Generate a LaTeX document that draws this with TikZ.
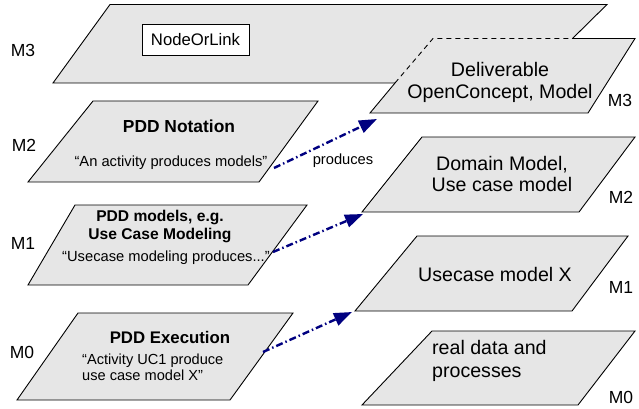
\documentclass[tikz,border=0pt]{standalone}
\usepackage{fontspec}
\setmainfont{Liberation Sans}
\usetikzlibrary{arrows.meta}
\definecolor{planefill}{RGB}{230,230,230}
\definecolor{arrowblue}{RGB}{0,0,128}
\tikzset{
  plane/.style={fill=planefill, draw=black, line width=0.9pt, line join=miter},
  lvl/.style={font=\fontsize{17.5}{20}\selectfont, inner sep=0pt},
  big/.style={font=\fontsize{19.6}{21.5}\selectfont, inner sep=0pt, align=center},
  title/.style={font=\fontsize{16.8}{18}\selectfont\bfseries, inner sep=0pt, align=center},
  quote/.style={font=\fontsize{14.7}{15.5}\selectfont, inner sep=0pt},
  prodarrow/.style={draw=arrowblue, line width=2.4pt, dash pattern=on 7pt off 3pt on 1.5pt off 3pt,
    -{Triangle[length=18pt,width=13pt]}}
}
\begin{document}
\begin{tikzpicture}[x=1pt,y=-1pt]
\useasboundingbox (0,0) rectangle (639,409);
% big M3 plane
\fill[planefill] (53,83) -- (110,4.5) -- (607,4.5) -- (528,83) -- cycle;
\draw[line width=0.9pt] (395,83) -- (53,83) -- (110,4.5) -- (607,4.5) -- (572,39);
\node[draw, fill=white, line width=0.8pt, minimum width=107pt, minimum height=31pt, inner sep=0pt,
  font=\fontsize{16.7}{18}\selectfont] (nol) at (195.5,39.5) {NodeOrLink};
% deliverable plane
\fill[planefill] (433,38.5) -- (635,38.5) -- (588,113) -- (370,113) -- cycle;
\draw[line width=0.9pt] (572,38.5) -- (635,38.5) -- (588,113) -- (370,113) -- (395,83);
\draw[line width=0.9pt, dash pattern=on 5pt off 4pt] (395,83) -- (433,38.5) -- (572,38.5);
\node[big] (deliv) at (500,82.5) {Deliverable\\OpenConcept, Model};
% right planes
\draw[plane] (422,137) -- (635,137) -- (579,212) -- (362,212) -- cycle;
\node[big] (domain) at (502,174) {Domain Model,\\Use case model};
\draw[plane] (417,236) -- (628,236) -- (572,311) -- (355,311) -- cycle;
\node[big] (ucx) at (495,274) {Usecase model X};
\draw[plane] (432,331) -- (635,331) -- (578,405) -- (362,405) -- cycle;
\node[big, align=left, anchor=west, font=\fontsize{19.6}{23}\selectfont] (real) at (432,360.5) {real data and\\processes};
% left planes
\draw[plane] (93,101) -- (318,101) -- (259,182) -- (28,182) -- cycle;
\node[title, font=\fontsize{17.4}{18}\selectfont\bfseries] (pddn) at (179,126) {PDD Notation};
\node[quote] (pddnq) at (171,163) {“An activity produces models”};
\draw[plane] (75,205) -- (307,205) -- (248,285) -- (28,285) -- cycle;
\node[title, font=\fontsize{15.6}{18}\selectfont\bfseries] (pddm) at (160,226) {PDD models, e.g.\\Use Case Modeling};
\node[quote] (pddmq) at (166,258) {“Usecase modeling produces...”};
\draw[plane] (78,313) -- (293,313) -- (230,400) -- (17,400) -- cycle;
\node[title] (pdde) at (170,337) {PDD Execution};
\node[quote, align=left, anchor=west, font=\fontsize{14.6}{15.5}\selectfont] (pddeq) at (82,367.5) {“Activity UC1 produce\\use case model X”};
% level labels
\node[lvl] (lm3) at (23,50) {M3};
\node[lvl] (lm2) at (24,145) {M2};
\node[lvl] (lm1) at (23,243) {M1};
\node[lvl] (lm0) at (22,352) {M0};
\node[lvl] (rm3) at (620,100) {M3};
\node[lvl] (rm2) at (621,197) {M2};
\node[lvl] (rm1) at (621,287) {M1};
\node[lvl] (rm0) at (621,397) {M0};
% arrows
\coordinate (s1) at (274,168); \coordinate (e1) at (377,119);
\coordinate (s2) at (273,252); \coordinate (e2) at (363,214);
\coordinate (s3) at (263,352); \coordinate (e3) at (352,312);
\draw[prodarrow] (s1) -- (e1);
\draw[prodarrow] (s2) -- (e2);
\draw[prodarrow] (s3) -- (e3);
\node[quote] (prod) at (343,161) {produces};
\end{tikzpicture}
\end{document}
